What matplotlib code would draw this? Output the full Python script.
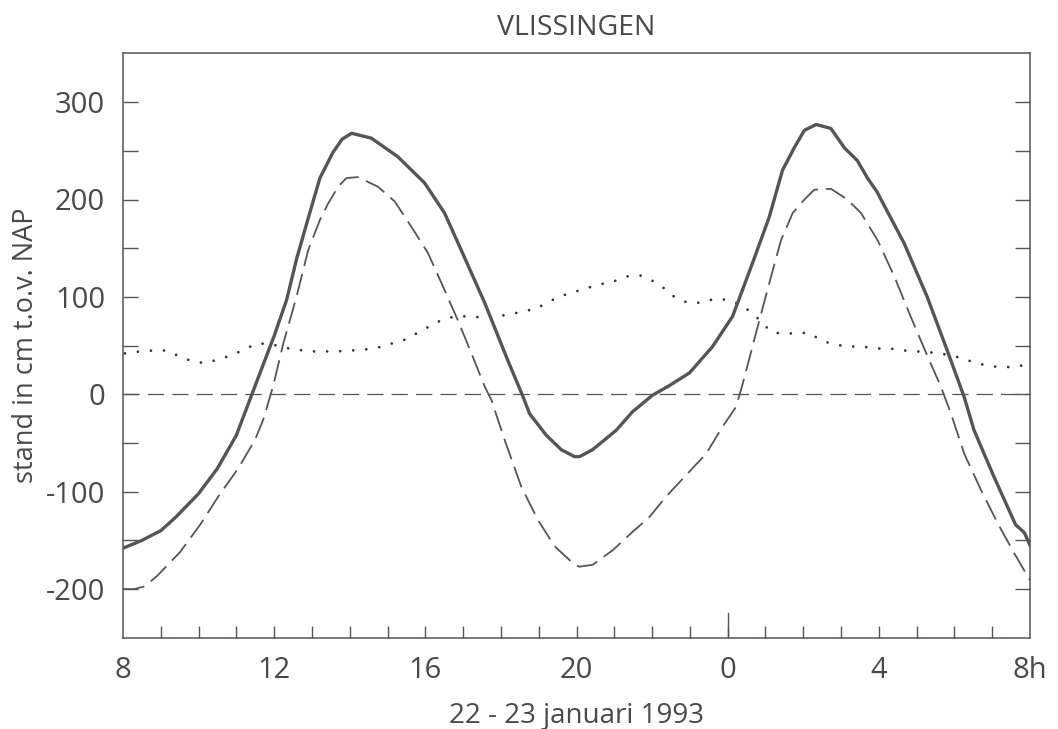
import matplotlib
matplotlib.use("Agg")
import matplotlib.pyplot as plt
from matplotlib.ticker import FixedLocator, FixedFormatter

plt.rcParams['font.family'] = ['Open Sans', 'DejaVu Sans']

# ---- data (hours since 0h on 22 Jan; 24 = midnight 23 Jan) ----
obs_t = [8.0, 8.5, 9.0, 9.4, 10.0, 10.5, 11.0, 11.45, 12.0, 12.33, 12.6, 12.94, 13.21, 13.55,
         13.8, 14.05, 14.57, 15.27, 15.98, 16.51, 16.95, 17.57, 18.18, 18.57, 18.76, 19.2, 19.6,
         19.95, 20.08, 20.42, 21.05, 21.48, 22.01, 22.46, 22.99, 23.6, 24.13, 24.66, 25.1,
         25.45, 25.76, 26.03, 26.34, 26.73, 27.09, 27.43, 27.7, 27.95, 28.67, 29.28, 29.81,
         30.26, 30.52, 31.05, 31.62, 31.85, 32.0]
obs_v = [-158, -150, -140, -126, -102, -76, -42, 4, 60, 97, 140, 186, 222, 248,
         262, 268, 263, 244, 217, 186, 148, 94, 35, -1, -20, -42, -57,
         -64, -64, -57, -37, -18, -1, 9, 22, 49, 80, 135, 182,
         230, 253, 271, 277, 273, 253, 240, 222, 208, 155, 100, 45,
         -3, -37, -85, -134, -142, -155]

ast_t = [8.0, 8.3, 8.58, 8.89, 9.51, 10.04, 10.52, 11.05, 11.49, 11.71, 11.97, 12.24, 12.59,
         12.9, 13.21, 13.43, 13.69, 13.91, 14.22, 14.75, 15.19, 15.63, 16.07, 16.51, 16.86,
         17.22, 17.57, 17.75, 18.1, 18.54, 18.98, 19.42, 19.95, 20.08, 20.43, 20.96, 21.49,
         21.93, 22.37, 22.9, 23.43, 23.87, 24.22, 24.4, 24.75, 25.1, 25.41, 25.72, 26.03,
         26.29, 26.73, 27.17, 27.53, 27.97, 28.41, 28.84, 29.29, 29.64, 29.91, 30.26, 30.7,
         31.14, 31.58, 32.0]
ast_v = [-200, -200, -197, -187, -162, -134, -105, -76, -47, -26, 8, 52, 100,
         148, 179, 196, 213, 222, 223, 213, 198, 172, 145, 107, 76,
         42, 8, -6, -47, -95, -129, -156, -175, -177, -175, -160, -141,
         -126, -105, -83, -61, -33, -13, 11, 63, 114, 158, 186, 200,
         210, 211, 200, 186, 158, 121, 80, 39, 8, -20, -61, -98,
         -132, -163, -191]

diff_t = [8.05, 8.45, 8.8, 9.16, 9.49, 9.82, 10.17, 10.54, 10.87, 11.21, 11.53, 11.89, 12.24,
          12.59, 12.94, 13.29, 13.65, 14.05, 14.4, 14.75, 15.1, 15.45, 15.79, 16.12, 16.42,
          16.78, 17.13, 17.48, 17.88, 18.23, 18.58, 18.94, 19.26, 19.6, 19.93, 20.27, 20.63,
          20.99, 21.33, 21.69, 22.04, 22.35, 22.62, 22.95, 23.3, 23.65, 24.0, 24.33, 24.64,
          24.9, 25.15, 25.5, 25.85, 26.16, 26.49, 26.84, 27.19, 27.57, 27.92, 28.29, 28.65,
          29.0, 29.38, 29.75, 30.1, 30.43, 30.8, 31.16, 31.51, 31.86]
diff_v = [42, 44, 45, 45, 39, 34, 32, 36, 40, 46, 52, 52, 48,
          46, 44, 44, 44, 45, 46, 48, 52, 56, 63, 70, 76,
          80, 80, 79, 80, 82, 85, 88, 95, 101, 105, 109, 113,
          116, 121, 122, 116, 108, 99, 94, 94, 98, 97, 92, 84,
          74, 64, 62, 63, 63, 55, 51, 49, 49, 47, 47, 45,
          44, 43, 41, 38, 34, 30, 28, 28, 30]

xtick_pos = [8, 12, 16, 20, 24, 28, 32]
xtick_lab = ['8', '12', '16', '20', '0', '4', '8h']
ytick_pos = [-200, -100, 0, 100, 200, 300]
ytick_lab = ['-200', '-100', '0', '100', '200', '300']

INK = '#545654'
TXT = '#484948'

fig = plt.figure(figsize=(10.58, 7.29), dpi=100)
ax = fig.add_axes([123/1058, 1-637.8/729, 907/1058, (637.8-53.4)/729])
ax.set_xlim(8, 32)
ax.set_ylim(-250, 350)

# zero line
ax.axhline(0, color=INK, lw=0.9, dashes=(13, 6.5), zorder=1)

ax.plot(diff_t, diff_v, color='#333333', lw=2.0, linestyle=(0, (0.01, 4.7)),
        dash_capstyle='round', zorder=2)
ax.plot(ast_t, ast_v, color=INK, lw=1.3, dashes=(12, 4.5), zorder=3)
ax.plot(obs_t, obs_v, color=INK, lw=2.4, solid_joinstyle='round', zorder=4)

for s in ax.spines.values():
    s.set_color(INK)
    s.set_linewidth(1.1)

ax.xaxis.remove_overlapping_locs = False
ax.xaxis.set_major_locator(FixedLocator(xtick_pos))
ax.xaxis.set_major_formatter(FixedFormatter(xtick_lab))
ax.xaxis.set_minor_locator(FixedLocator(list(range(9, 32))))
ax.tick_params(axis='x', which='major', length=0, pad=13, labelsize=21, labelcolor=TXT)
ax.tick_params(axis='x', which='minor', direction='in', length=9, width=1.0, color=INK)
ax.axvline(24, ymin=0, ymax=25/584.4, color=INK, lw=1.0)

ax.yaxis.set_major_locator(FixedLocator(ytick_pos))
ax.yaxis.set_major_formatter(FixedFormatter(ytick_lab))
ax.yaxis.set_minor_locator(FixedLocator([-150, -50, 50, 150, 250]))
ax.tick_params(axis='y', which='both', direction='in', length=11, width=1.0, color=INK,
               left=True, right=True, labelsize=21, labelcolor=TXT, pad=13)

ax.set_title('VLISSINGEN', fontsize=20.5, color=TXT, pad=13)
ax.set_xlabel('22 - 23 januari 1993', fontsize=20, color=TXT, labelpad=12)
ax.set_ylabel('stand in cm t.o.v. NAP', fontsize=19.5, color=TXT, labelpad=4)

fig.savefig('out.png', dpi=100, facecolor='white')
